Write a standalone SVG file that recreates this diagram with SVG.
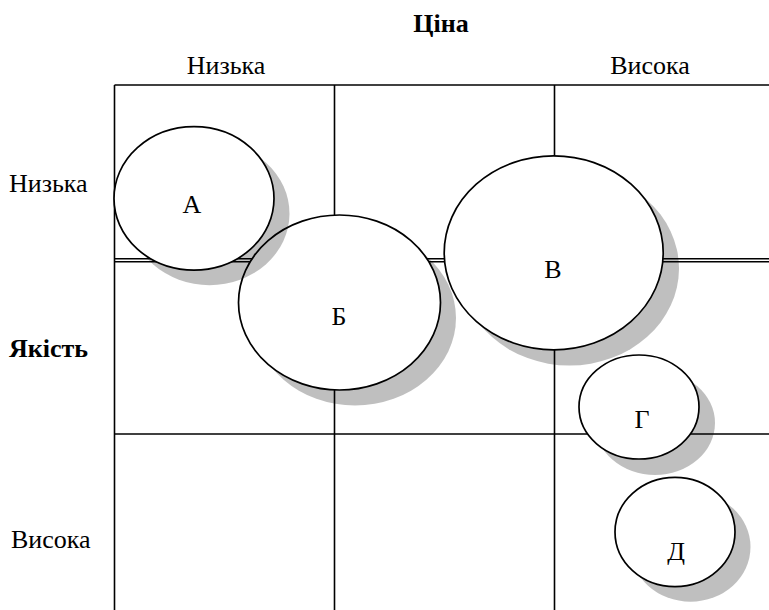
<svg xmlns="http://www.w3.org/2000/svg" width="769" height="610" viewBox="0 0 769 610">
<style>
.t{font-family:"Liberation Serif","Times New Roman",serif;font-size:26px;fill:#000}
.b{font-weight:bold}
.l{font-family:"Liberation Serif","Times New Roman",serif;font-size:26px;fill:#000;text-anchor:middle}
.g{stroke:#000;stroke-width:1.6;fill:none}
.sh{fill:#000;fill-opacity:0.25}
.c{fill:#fff;stroke:#000;stroke-width:1.7}
</style>
<rect width="769" height="610" fill="#fff"/>
<g id="labels">
<text class="t b" x="441" y="32" text-anchor="middle">Ціна</text>
<text class="t" x="226" y="74" text-anchor="middle">Низька</text>
<text class="t" x="650" y="74" text-anchor="middle">Висока</text>
<text class="t" x="9" y="192">Низька</text>
<text class="t b" x="9" y="357">Якість</text>
<text class="t" x="11" y="548">Висока</text>
</g>
<g id="grid">
<line class="g" x1="114.5" y1="85" x2="769" y2="85"/>
<line class="g" x1="114.5" y1="85" x2="114.5" y2="610"/>
<line class="g" x1="334.5" y1="85" x2="334.5" y2="610"/>
<line class="g" x1="554.5" y1="85" x2="554.5" y2="610"/>
<line class="g" x1="114.5" y1="258.8" x2="769" y2="258.8" stroke-width="1.3"/>
<line class="g" x1="114.5" y1="261.8" x2="769" y2="261.8" stroke-width="1.3"/>
<line class="g" x1="114.5" y1="434" x2="769" y2="434"/>
</g>
<g id="node-b">
<ellipse class="sh" cx="355" cy="318" rx="101" ry="87.5"/>
<ellipse class="c" cx="339.5" cy="302.5" rx="101" ry="87.5"/>
<text class="l" x="339" y="325">Б</text>
</g>
<g id="node-v">
<ellipse class="sh" cx="569.5" cy="268.5" rx="109.5" ry="97"/>
<ellipse class="c" cx="553.7" cy="252.8" rx="109.5" ry="97"/>
<text class="l" x="553" y="278">В</text>
</g>
<g id="node-g">
<ellipse class="sh" cx="655" cy="423" rx="60" ry="52"/>
<ellipse class="c" cx="639" cy="407" rx="60" ry="52"/>
<text class="l" x="642" y="428">Г</text>
</g>
<g id="node-d">
<ellipse class="sh" cx="690.5" cy="547" rx="60" ry="54.7"/>
<ellipse class="c" cx="675" cy="532" rx="60" ry="54.7"/>
<text class="l" x="676" y="560">Д</text>
</g>
<g id="node-a">
<ellipse class="sh" cx="209.5" cy="213.5" rx="80" ry="71.7"/>
<ellipse class="c" cx="194" cy="198.4" rx="80" ry="71.7"/>
<text class="l" x="192" y="213">А</text>
</g>
<g id="connectors"></g>
</svg>
